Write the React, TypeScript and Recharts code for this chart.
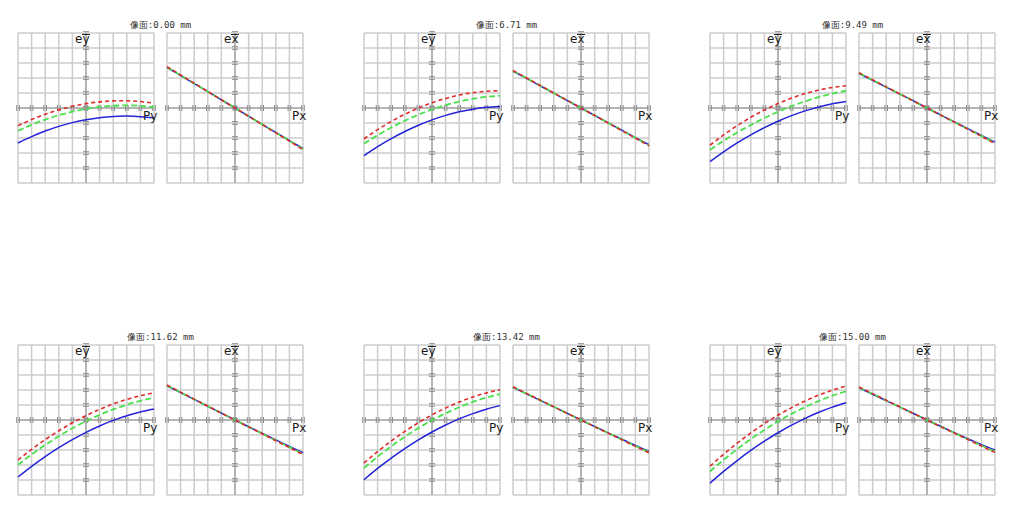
import { LineChart, Line, XAxis, YAxis, CartesianGrid, ReferenceLine } from 'recharts';

// pupil coordinate (Px / Py), normalised
const PUPIL = [-1, -0.8, -0.6, -0.4, -0.2, 0, 0.2, 0.4, 0.6, 0.8, 1];
const GRID_X = [-1, -0.8, -0.6, -0.4, -0.2, 0, 0.2, 0.4, 0.6, 0.8, 1];
const GRID_Y = [-5, -4, -3, -2, -1, 0, 1, 2, 3, 4, 5];

const FIELDS = ['0.00', '6.71', '9.49', '11.62', '13.42', '15.00'];

// tangential fan (ey vs Py), one row per field
const EY_BLUE = [
  [-2.33, -1.905, -1.537, -1.227, -0.975, -0.78, -0.643, -0.563, -0.541, -0.577, -0.65],
  [-3.18, -2.582, -2.044, -1.566, -1.148, -0.79, -0.492, -0.254, -0.076, 0.042, 0.1],
  [-3.57, -2.922, -2.328, -1.79, -1.308, -0.88, -0.508, -0.19, 0.072, 0.278, 0.43],
  [-3.8, -3.09, -2.436, -1.84, -1.302, -0.82, -0.396, -0.028, 0.282, 0.534, 0.73],
  [-3.98, -3.23, -2.538, -1.902, -1.322, -0.8, -0.334, 0.074, 0.426, 0.722, 0.96],
  [-4.21, -3.429, -2.703, -2.031, -1.413, -0.85, -0.341, 0.113, 0.513, 0.859, 1.15],
];
const EY_GREEN = [
  [-1.52, -1.121, -0.775, -0.483, -0.245, -0.06, 0.071, 0.149, 0.173, 0.143, 0.06],
  [-2.38, -1.815, -1.305, -0.849, -0.447, -0.1, 0.193, 0.431, 0.615, 0.745, 0.82],
  [-2.79, -2.191, -1.637, -1.129, -0.667, -0.25, 0.121, 0.447, 0.727, 0.961, 1.15],
  [-2.99, -2.3, -1.664, -1.082, -0.554, -0.08, 0.34, 0.706, 1.018, 1.276, 1.48],
  [-3.2, -2.45, -1.756, -1.12, -0.542, -0.02, 0.444, 0.852, 1.202, 1.494, 1.73],
  [-3.43, -2.659, -1.941, -1.275, -0.661, -0.1, 0.409, 0.865, 1.269, 1.621, 1.92],
];
const EY_RED = [
  [-1.18, -0.771, -0.419, -0.125, 0.111, 0.29, 0.411, 0.475, 0.481, 0.429, 0.32],
  [-2.05, -1.442, -0.898, -0.418, -0.002, 0.35, 0.638, 0.862, 1.022, 1.118, 1.15],
  [-2.48, -1.796, -1.176, -0.62, -0.128, 0.3, 0.664, 0.964, 1.2, 1.372, 1.48],
  [-2.66, -1.956, -1.308, -0.718, -0.186, 0.29, 0.708, 1.07, 1.374, 1.62, 1.81],
  [-2.87, -2.106, -1.402, -0.76, -0.18, 0.34, 0.798, 1.196, 1.532, 1.806, 2.02],
  [-3.08, -2.283, -1.545, -0.865, -0.243, 0.32, 0.825, 1.271, 1.659, 1.989, 2.26],
];

// sagittal fan (ex vs Px)
const EX_BLUE = [
  [2.7, 2.17, 1.63, 1.09, 0.54, 0, -0.54, -1.09, -1.63, -2.17, -2.7],
  [2.45, 1.97, 1.48, 0.99, 0.49, 0, -0.49, -0.99, -1.48, -1.97, -2.45],
  [2.3, 1.85, 1.39, 0.93, 0.47, 0, -0.46, -0.92, -1.38, -1.83, -2.28],
  [2.27, 1.82, 1.37, 0.91, 0.46, 0, -0.45, -0.89, -1.33, -1.76, -2.18],
  [2.17, 1.74, 1.31, 0.87, 0.44, 0, -0.43, -0.86, -1.28, -1.69, -2.08],
  [2.14, 1.72, 1.29, 0.86, 0.43, 0, -0.42, -0.84, -1.25, -1.64, -2.0],
];
const EX_GREEN = [
  [2.72, 2.18, 1.63, 1.09, 0.55, 0, -0.55, -1.09, -1.64, -2.18, -2.73],
  [2.47, 1.98, 1.49, 0.99, 0.5, 0, -0.5, -0.99, -1.49, -1.99, -2.48],
  [2.32, 1.86, 1.4, 0.93, 0.47, 0, -0.47, -0.93, -1.4, -1.86, -2.33],
  [2.3, 1.84, 1.38, 0.92, 0.46, 0, -0.46, -0.91, -1.36, -1.81, -2.25],
  [2.19, 1.75, 1.32, 0.88, 0.44, 0, -0.44, -0.87, -1.3, -1.73, -2.14],
  [2.17, 1.74, 1.3, 0.87, 0.43, 0, -0.43, -0.86, -1.28, -1.7, -2.1],
];
const EX_RED = [
  [2.76, 2.2, 1.65, 1.1, 0.55, 0, -0.55, -1.1, -1.66, -2.21, -2.78],
  [2.5, 2.0, 1.5, 1.0, 0.5, 0, -0.5, -1.0, -1.51, -2.01, -2.53],
  [2.35, 1.88, 1.41, 0.94, 0.47, 0, -0.47, -0.94, -1.41, -1.89, -2.38],
  [2.33, 1.86, 1.39, 0.93, 0.46, 0, -0.46, -0.92, -1.38, -1.84, -2.3],
  [2.22, 1.77, 1.33, 0.88, 0.44, 0, -0.44, -0.88, -1.32, -1.76, -2.19],
  [2.2, 1.76, 1.32, 0.88, 0.44, 0, -0.44, -0.87, -1.3, -1.73, -2.16],
];

const PW = 136;
const PH = 150;
const M = 8;
const COL_X = [18, 364, 710];
const ROW_Y = [33, 345];
const GAP = 149;

const AXIS_COLOR = '#a9a9a9';
const MARK_COLOR = '#8c8c8c';

const VAxis = (props: any) => {
  const { x1, y1, x2, y2 } = props;
  const marks = [];
  for (let i = 1; i <= 10; i++) {
    const y = y1 + ((y2 - y1) * i) / 10;
    marks.push(
      <g key={i}>
        <line x1={x1 - 3} x2={x1 + 3} y1={y - 1.3} y2={y - 1.3} stroke={MARK_COLOR} strokeWidth={1} />
        <line x1={x1 - 3} x2={x1 + 3} y1={y + 1.3} y2={y + 1.3} stroke={MARK_COLOR} strokeWidth={1} />
      </g>
    );
  }
  return (
    <g>
      <line x1={x1} y1={y1} x2={x2} y2={y2} stroke={AXIS_COLOR} strokeWidth={1.5} />
      {marks}
    </g>
  );
};

const HAxis = (props: any) => {
  const { x1, y1, x2, y2 } = props;
  const marks = [];
  for (let i = 0; i <= 10; i++) {
    const x = x1 + ((x2 - x1) * i) / 10;
    marks.push(
      <g key={i}>
        <line x1={x - 1.3} x2={x - 1.3} y1={y1 - 3} y2={y1 + 3} stroke={MARK_COLOR} strokeWidth={1} />
        <line x1={x + 1.3} x2={x + 1.3} y1={y1 - 3} y2={y1 + 3} stroke={MARK_COLOR} strokeWidth={1} />
      </g>
    );
  }
  return (
    <g>
      <line x1={x1} y1={y1} x2={x2} y2={y2} stroke={AXIS_COLOR} strokeWidth={1.5} />
      {marks}
    </g>
  );
};

interface PanelProps {
  left: number;
  top: number;
  blue: number[];
  green: number[];
  red: number[];
  v: string;
}

const Panel = ({ left, top, blue, green, red, v }: PanelProps) => {
  const data = PUPIL.map((p, i) => ({ p, b: blue[i], g: green[i], r: red[i] }));
  const labelStyle = {
    position: 'absolute' as const,
    fontFamily: '"DejaVu Sans", sans-serif',
    fontSize: 12,
    lineHeight: '12px',
    color: '#1a1a1a',
    whiteSpace: 'nowrap' as const,
  };
  return (
    <>
      <div style={{ position: 'absolute', left: left - M, top: top - M }}>
        <LineChart width={PW + 2 * M} height={PH + 2 * M} data={data} margin={{ top: M, right: M, bottom: M, left: M }}>
          <CartesianGrid stroke="#cccccc" strokeWidth={1.5} />
          <XAxis dataKey="p" type="number" domain={[-1, 1]} ticks={GRID_X} interval={0} hide />
          <YAxis type="number" domain={[-5, 5]} ticks={GRID_Y} interval={0} hide />
          <ReferenceLine x={0} shape={VAxis} />
          <ReferenceLine y={0} shape={HAxis} />
          <Line dataKey="b" type="natural" stroke="#2323d8" strokeWidth={1.5} dot={false} isAnimationActive={false} />
          <Line dataKey="g" type="natural" stroke="#4ae04a" strokeWidth={1.8} strokeDasharray="6 3" dot={false} isAnimationActive={false} />
          <Line dataKey="r" type="natural" stroke="#df2b2b" strokeWidth={1.6} strokeDasharray="4 3" dot={false} isAnimationActive={false} />
        </LineChart>
      </div>
      <div style={{ ...labelStyle, left: left + 57, top: top }}>
        e
        <span style={{ position: 'relative', display: 'inline-block' }}>
          {v}
          <span
            style={{ position: 'absolute', left: 0, right: 0, top: 1, height: 1, background: '#1a1a1a' }}
          />
        </span>
      </div>
      <div style={{ ...labelStyle, left: left + 125, top: top + 77 }}>P{v}</div>
    </>
  );
};

export default function App() {
  return (
    <div style={{ position: 'absolute', left: 0, top: 0, width: 1020, height: 514, background: '#fff' }}>
      {FIELDS.map((f, i) => {
        const x = COL_X[i % 3];
        const y = ROW_Y[Math.floor(i / 3)];
        return (
          <div key={f}>
            <div
              style={{
                position: 'absolute',
                left: x,
                width: PW + GAP,
                top: y - 13,
                textAlign: 'center',
                fontFamily: '"DejaVu Sans Mono", monospace',
                fontSize: 9,
                lineHeight: '10px',
                color: '#333',
              }}
            >
              像面:{f} mm
            </div>
            <Panel left={x} top={y} blue={EY_BLUE[i]} green={EY_GREEN[i]} red={EY_RED[i]} v="y" />
            <Panel left={x + GAP} top={y} blue={EX_BLUE[i]} green={EX_GREEN[i]} red={EX_RED[i]} v="x" />
          </div>
        );
      })}
    </div>
  );
}
